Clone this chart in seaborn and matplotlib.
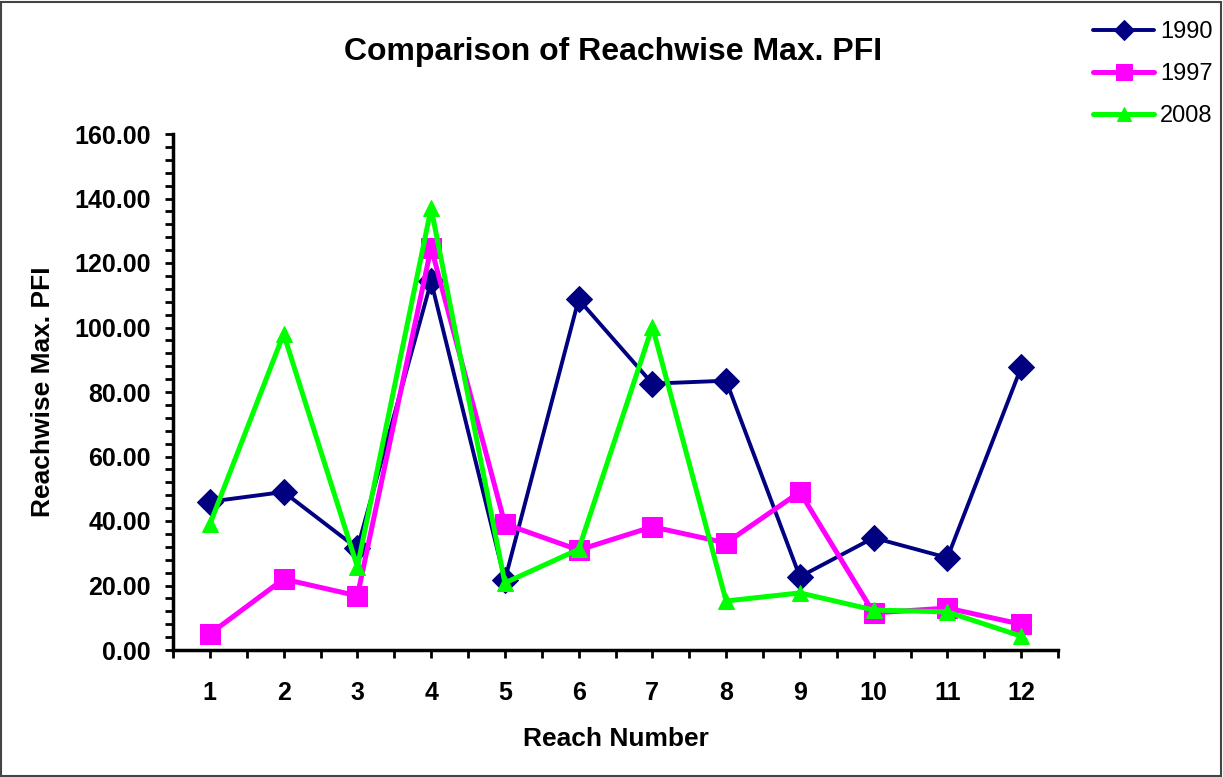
import matplotlib
matplotlib.use("Agg")
import matplotlib.pyplot as plt
from matplotlib.ticker import MultipleLocator, FixedLocator, FuncFormatter
import seaborn as sns
import pandas as pd

reach = [1, 2, 3, 4, 5, 6, 7, 8, 9, 10, 11, 12]
pfi_1990 = [46.0, 49.0, 31.5, 114.3, 21.7, 108.7, 82.6, 83.5, 22.7, 34.8, 28.6, 87.6]
pfi_1997 = [5.0, 22.0, 16.8, 124.8, 39.1, 31.0, 38.2, 33.2, 49.0, 11.5, 13.0, 8.0]
pfi_2008 = [39.0, 98.0, 25.8, 137.0, 20.8, 31.2, 100.3, 15.2, 17.7, 12.4, 11.8, 4.3]
series_names = ["1990", "1997", "2008"]

sns.set_style("white")
plt.rcParams['font.family'] = ['Liberation Sans', 'DejaVu Sans']
plt.rcParams['text.color'] = 'black'
plt.rcParams['axes.labelcolor'] = 'black'
plt.rcParams['xtick.color'] = 'black'
plt.rcParams['ytick.color'] = 'black'

fig = plt.figure(figsize=(12.23, 7.77), dpi=100)
ax = fig.add_axes([173/1223, 1-650/777, (1058-173)/1223, (650-134)/777])

styles = [
    (pfi_1990, "#000080", "D", 2.8, 13),
    (pfi_1997, "#FF00FF", "s", 3.6, 14),
    (pfi_2008, "#00FF00", "^", 3.6, 12),
]
for name, (vals, col, mk, lw, ms) in zip(series_names, styles):
    df = pd.DataFrame({"Reach": reach, "PFI": vals})
    sns.lineplot(data=df, x="Reach", y="PFI", ax=ax, color=col, marker=mk,
                 linewidth=lw, markersize=ms, markeredgecolor=col,
                 markerfacecolor=col, label=name)

ax.set_xlim(0.5, 12.5)
ax.set_ylim(0, 160)
ax.xaxis.set_major_locator(FixedLocator(reach))
ax.xaxis.set_minor_locator(MultipleLocator(0.5))
ax.yaxis.set_major_locator(MultipleLocator(20))
ax.yaxis.set_minor_locator(MultipleLocator(4))
ax.yaxis.set_major_formatter(FuncFormatter(lambda v, p: f"{v:.2f}"))

for s in ["top", "right"]:
    ax.spines[s].set_visible(False)
for s in ["left", "bottom"]:
    ax.spines[s].set_linewidth(2.5)
    ax.spines[s].set_color("black")

ax.tick_params(axis="both", which="both", direction="out", length=6, width=2,
               color="black", bottom=True, left=True, top=False, right=False)
ax.tick_params(axis="x", which="major", pad=16)
ax.tick_params(axis="y", which="major", pad=10)
for lab in ax.get_xticklabels() + ax.get_yticklabels():
    lab.set_fontweight("bold")
    lab.set_fontsize(18)

ax.set_xlabel("Reach Number", fontsize=19, fontweight="bold", labelpad=16)
ax.set_ylabel("Reachwise Max. PFI", fontsize=19, fontweight="bold", labelpad=14)
ax.grid(False)

fig.text(613/1223, 1-52/777, "Comparison of Reachwise Max. PFI", ha="center",
         va="center", fontsize=23, fontweight="bold")

handles, labels = ax.get_legend_handles_labels()
ax.get_legend().remove()
fig.legend(handles, labels, loc="upper left", bbox_to_anchor=(1093/1223, 1-21/777),
           frameon=False, fontsize=17, handlelength=2.6, labelspacing=0.85,
           handletextpad=0.25, borderaxespad=0, borderpad=0, markerscale=0.8)

border = plt.Rectangle((0.001, 0.001), 0.997, 0.997, transform=fig.transFigure,
                       fill=False, edgecolor="#444444", linewidth=1.5)
fig.patches.append(border)

fig.savefig("out.png", dpi=100, facecolor="white")
